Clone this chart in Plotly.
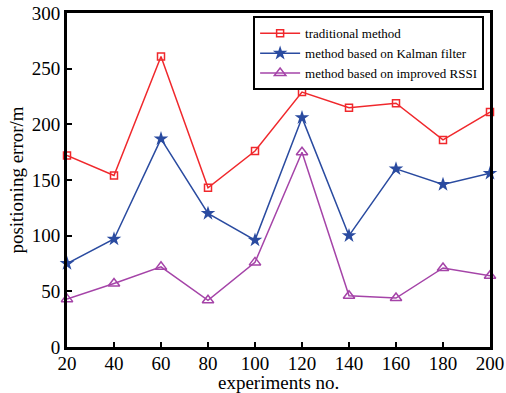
import plotly.graph_objects as go

x_vals = [20, 40, 60, 80, 100, 120, 140, 160, 180, 200]
traditional = [172, 154, 261, 143, 176, 229, 215, 219, 186, 211]
kalman = [75, 97, 187, 120, 96, 206, 100, 160, 146, 156]
rssi = [43, 57, 72, 42, 76, 175, 46, 44, 71, 64]

names = ["traditional method", "method based on Kalman filter", "method based on improved RSSI"]

fig = go.Figure()
fig.add_trace(go.Scatter(x=x_vals, y=traditional, name=names[0], mode="lines+markers",
                         line=dict(color="#F0282C", width=1.5),
                         marker=dict(symbol="square-open", size=7, color="#F0282C", line=dict(width=1.5)),
                         cliponaxis=False))
fig.add_trace(go.Scatter(x=x_vals, y=kalman, name=names[1], mode="lines+markers",
                         line=dict(color="#2A4BA0", width=1.5),
                         marker=dict(symbol="star", size=11, color="#2A4BA0"),
                         cliponaxis=False))
fig.add_trace(go.Scatter(x=x_vals, y=rssi, name=names[2], mode="lines+markers",
                         line=dict(color="#A544A8", width=1.5),
                         marker=dict(symbol="triangle-up-open", size=10, color="#A544A8", line=dict(width=1.5)),
                         cliponaxis=False))

axis_common = dict(showline=True, linecolor="black", linewidth=3, mirror=True,
                   ticks="inside", ticklen=5, tickwidth=1.5, tickcolor="black",
                   showgrid=False, zeroline=False, automargin=False,
                   tickfont=dict(family="Liberation Serif", size=19, color="black"))

fig.update_layout(
    width=506, height=393,
    margin=dict(l=67, r=16, t=13, b=46),
    paper_bgcolor="white", plot_bgcolor="white",
    font=dict(family="Liberation Serif", color="black"),
    xaxis=dict(range=[20, 200], tickvals=x_vals, ticklabelstandoff=-3, **axis_common),
    yaxis=dict(range=[0, 300], tickvals=[0, 50, 100, 150, 200, 250, 300],
               title=dict(text="positioning error/m", font=dict(size=19), standoff=4),
               **axis_common),
    legend=dict(x=0.44, y=0.99, xanchor="left", yanchor="top",
                bgcolor="white", bordercolor="black", borderwidth=2,
                font=dict(family="Liberation Serif", size=13, color="black"),
                tracegroupgap=0, itemwidth=40, entrywidth=0),
    showlegend=True,
)
fig.add_annotation(text="experiments no.", xref="paper", yref="paper", x=0.5, y=-0.105,
                   xanchor="center", yanchor="middle", showarrow=False,
                   font=dict(family="Liberation Serif", size=19, color="black"))

fig.write_html("out.html")
